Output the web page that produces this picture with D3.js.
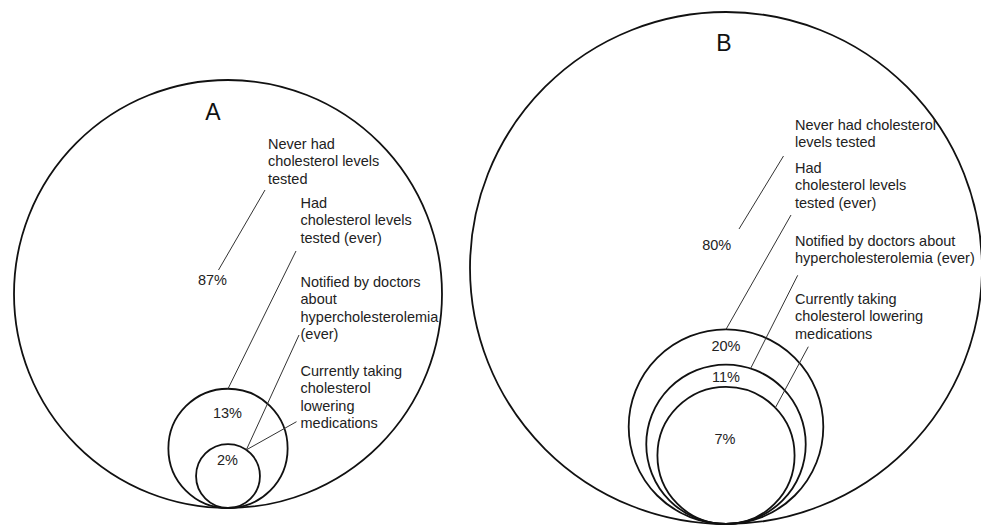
<!DOCTYPE html>
<html><head><meta charset="utf-8">
<script src="https://cdn.jsdelivr.net/npm/d3@7"></script>
<style>html,body{margin:0;padding:0;background:#fff;} svg{display:block;}</style>
</head><body>
<script>
// ---- data ----
const panelNames = ["A", "B"];
const categories = [
  "Never had cholesterol levels tested",
  "Had cholesterol levels tested (ever)",
  "Notified by doctors about hypercholesterolemia (ever)",
  "Currently taking cholesterol lowering medications"
];
const valuesA = [87, 13, 2, 2];
const valuesB = [80, 20, 11, 7];
const labelLinesA = [
  ["Never had", "cholesterol levels", "tested"],
  ["Had", "cholesterol levels", "tested (ever)"],
  ["Notified by doctors", "about", "hypercholesterolemia", "(ever)"],
  ["Currently taking", "cholesterol", "lowering", "medications"]
];
const labelLinesB = [
  ["Never had cholesterol", "levels tested"],
  ["Had", "cholesterol levels", "tested (ever)"],
  ["Notified by doctors about", "hypercholesterolemia (ever)"],
  ["Currently taking", "cholesterol lowering", "medications"]
];

// ---- layout ----
const W = 981, H = 529;
const lineH = 17.3;
const layout = {
  A: { cx: 228, cy: 294, R: 214, rMax: 117.7, title: [213, 120],
       labelX: [268, 300.5, 300.5, 300.5], labelY: [149, 208, 287, 376],
       leaderStart: [[265, 190], [296, 251], [299, 335], [296.5, 421.7]],
       neverEnd: [218.5, 270], endAngles: [0, 0, 35, 35],
       pct: [[212.5, 285], [227.5, 418], [227.5, 465]] },
  B: { cx: 726, cy: 268, R: 256, rMax: 166.4, title: [724, 51],
       labelX: [795, 795, 795, 795], labelY: [129.5, 173, 246, 304],
       leaderStart: [[783.5, 156], [791, 215], [797.7, 275.3], [808.3, 346.7]],
       neverEnd: [739, 229], endAngles: [0, 0, 18, 46],
       pct: [[716.7, 250], [726, 351], [726, 382], [725, 444]] }
};
const dataByPanel = { A: { values: valuesA, lines: labelLinesA }, B: { values: valuesB, lines: labelLinesB } };

const svg = d3.select("body").append("svg").attr("width", W).attr("height", H)
  .style("font-family", "'Liberation Sans', Arial, sans-serif");

panelNames.forEach(name => {
  const L = layout[name];
  const D = dataByPanel[name];
  const g = svg.append("g");
  const rScale = d3.scalePow().exponent(1 / 3).domain([0, 100]).range([0, L.rMax]);
  const bottomY = L.cy + L.R;

  // outer circle (whole population)
  g.append("circle").attr("cx", L.cx).attr("cy", L.cy).attr("r", L.R)
    .attr("fill", "none").attr("stroke", "#111").attr("stroke-width", 1.8);

  // nested circles (unique values, excluding "never")
  const inner = Array.from(new Set(D.values.slice(1)));
  g.selectAll("circle.inner").data(inner).join("circle").attr("class", "inner")
    .attr("cx", L.cx).attr("cy", d => bottomY - rScale(d)).attr("r", d => rScale(d))
    .attr("fill", "none").attr("stroke", "#111").attr("stroke-width", 1.8);

  // title
  g.append("text").attr("x", L.title[0]).attr("y", L.title[1]).attr("text-anchor", "middle")
    .attr("font-size", 23).attr("fill", "#111").text(name);

  // category labels
  D.lines.forEach((lines, i) => {
    const t = g.append("text").attr("font-size", 14.5).attr("fill", "#222");
    lines.forEach((ln, j) => {
      t.append("tspan").attr("x", L.labelX[i]).attr("y", L.labelY[i] + j * lineH).text(ln);
    });
  });

  // leader lines
  D.values.forEach((v, i) => {
    const s = L.leaderStart[i];
    let e;
    if (i === 0) e = L.neverEnd;
    else {
      const r = rScale(v), a = L.endAngles[i] * Math.PI / 180;
      e = [L.cx + r * Math.sin(a), bottomY - r - r * Math.cos(a)];
    }
    g.append("line").attr("x1", s[0]).attr("y1", s[1]).attr("x2", e[0]).attr("y2", e[1])
      .attr("stroke", "#333").attr("stroke-width", 1);
  });

  // percentage labels (unique values)
  const pctVals = Array.from(new Set(D.values));
  pctVals.forEach((v, i) => {
    g.append("text").attr("x", L.pct[i][0]).attr("y", L.pct[i][1]).attr("text-anchor", "middle")
      .attr("font-size", 14.5).attr("fill", "#222").text(v + "%");
  });
});
</script>
</body></html>
